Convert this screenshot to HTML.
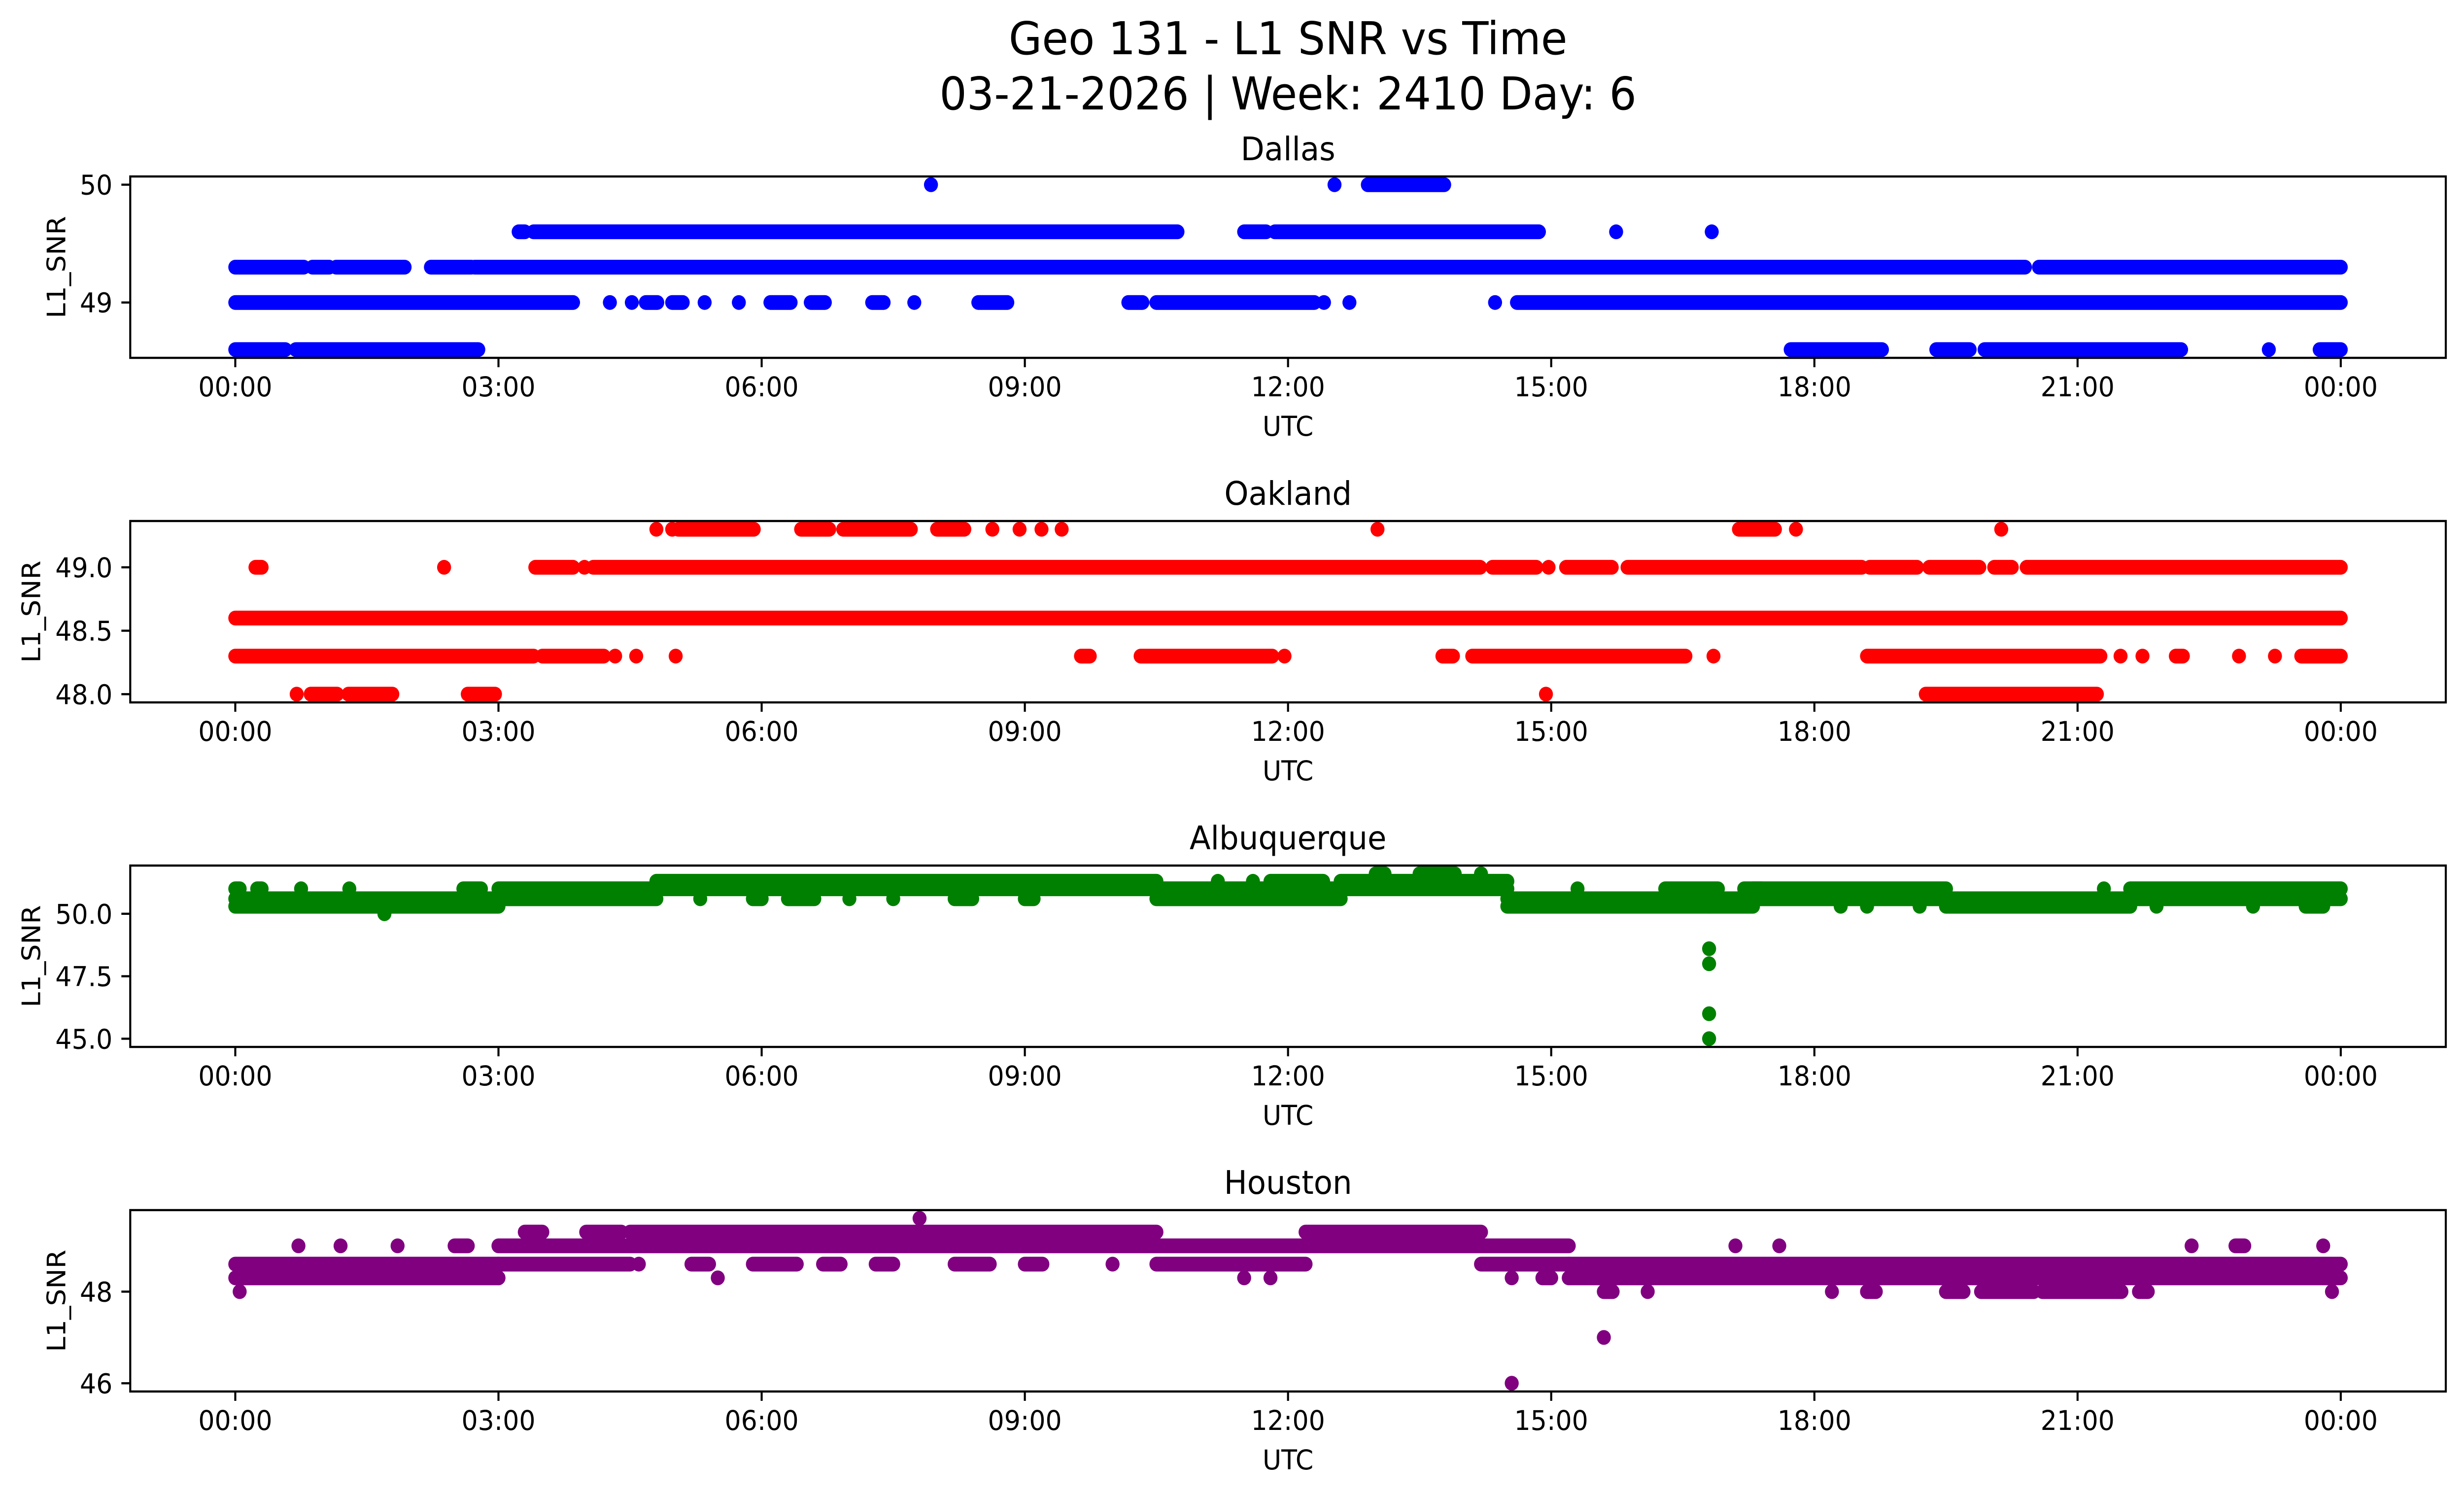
<!DOCTYPE html>
<html><head><meta charset="utf-8">
<style>
html,body{margin:0;padding:0;background:#fff;width:100%;height:100%;overflow:hidden;}
svg{position:absolute;left:0;top:0;width:100vw;height:100vh;display:block;font-family:"DejaVu Sans","Liberation Sans",sans-serif;}
</style></head>
<body>
<svg id="fig" viewBox="0 0 5278 3033" preserveAspectRatio="none" xmlns="http://www.w3.org/2000/svg">
<rect width="5278" height="3033" fill="#fff"/>
<text x="2759" y="110" font-size="92" text-anchor="middle">Geo 131 - L1 SNR vs Time</text>
<text x="2759" y="222" font-size="92" text-anchor="middle">03-21-2026 | Week: 2410 Day: 6</text>
<g id="panels"></g>
</svg>
<script>
// ---- shared x-axis data ----
const xTickHours = [0, 3, 6, 9, 12, 15, 18, 21, 24];
const xTickLabels = ["00:00","03:00","06:00","09:00","12:00","15:00","18:00","21:00","00:00"];

// ---- Dallas: runs [startHour, endHour, value] ----
const dallasRuns = [
 [0,0.57,48.6],[0.69,2.77,48.6],[17.73,18.77,48.6],[19.39,19.77,48.6],[19.94,22.18,48.6],[23.18,23.18,48.6],[23.76,24,48.6],
 [0,3.85,49.0],[4.27,4.27,49.0],[4.52,4.52,49.0],[4.68,4.81,49.0],[4.98,5.1,49.0],[5.35,5.35,49.0],[5.74,5.74,49.0],
 [6.1,6.33,49.0],[6.56,6.72,49.0],[7.26,7.39,49.0],[7.74,7.74,49.0],[8.47,8.8,49.0],[10.18,10.34,49.0],[10.5,12.3,49.0],
 [12.41,12.41,49.0],[12.7,12.7,49.0],[14.36,14.36,49.0],[14.61,24,49.0],
 [0,0.78,49.3],[0.88,1.07,49.3],[1.15,1.93,49.3],[2.23,2.69,49.3],[2.73,20.4,49.3],[20.56,24,49.3],
 [3.23,3.3,49.6],[3.4,10.74,49.6],[11.5,11.75,49.6],[11.85,14.86,49.6],[15.74,15.74,49.6],[16.83,16.83,49.6],
 [7.93,7.93,50.0],[12.53,12.53,50.0],[12.91,13.78,50.0]
];
const dallasTicks = [49, 50];
const dallasTickLabels = ["49","50"];

// ---- Oakland ----
const oaklandRuns = [
 [0.7,0.7,48.0],[0.86,1.16,48.0],[1.29,1.79,48.0],[2.65,2.96,48.0],[14.94,14.94,48.0],[19.27,21.22,48.0],
 [0,3.4,48.3],[3.5,4.2,48.3],[4.33,4.33,48.3],[4.57,4.57,48.3],[5.02,5.02,48.3],[9.64,9.74,48.3],[10.32,11.82,48.3],
 [11.96,11.96,48.3],[13.76,13.88,48.3],[14.1,16.53,48.3],[16.85,16.85,48.3],[18.6,21.26,48.3],[21.49,21.49,48.3],
 [21.74,21.74,48.3],[22.12,22.2,48.3],[22.84,22.84,48.3],[23.25,23.25,48.3],[23.55,24,48.3],
 [0,24,48.6],
 [0.23,0.3,49.0],[2.38,2.38,49.0],[3.42,3.85,49.0],[3.98,3.98,49.0],[4.08,14.19,49.0],[14.33,14.83,49.0],[14.97,14.97,49.0],
 [15.17,15.69,49.0],[15.87,18.54,49.0],[18.63,19.17,49.0],[19.31,19.88,49.0],[20.05,20.25,49.0],[20.42,24,49.0],
 [4.8,4.8,49.3],[4.98,4.98,49.3],[5.05,5.91,49.3],[6.45,6.77,49.3],[6.93,7.7,49.3],[8.0,8.31,49.3],[8.63,8.63,49.3],
 [8.94,8.94,49.3],[9.19,9.19,49.3],[9.42,9.42,49.3],[13.02,13.02,49.3],[17.14,17.55,49.3],[17.79,17.79,49.3],[20.13,20.13,49.3]
];
const oaklandTicks = [48.0, 48.5, 49.0];
const oaklandTickLabels = ["48.0","48.5","49.0"];

// ---- Albuquerque ----
const albuquerqueRuns = [
 [0,3.0,50.3],[0,3.0,50.6],[0,0.05,51.0],[0.25,0.3,51.0],[0.75,0.75,51.0],[1.3,1.3,51.0],[1.7,1.7,50.0],[2.6,2.8,51.0],
 [3.0,4.8,50.6],[3.0,4.8,51.0],[4.8,10.5,51.0],[4.8,10.5,51.3],[5.3,5.3,50.6],[5.9,6.0,50.6],[6.3,6.6,50.6],[7.0,7.0,50.6],
 [7.5,7.5,50.6],[8.2,8.4,50.6],[9.0,9.1,50.6],
 [10.5,12.6,50.6],[10.5,12.6,51.0],[11.2,11.2,51.3],[11.6,11.6,51.3],[11.8,12.4,51.3],
 [12.6,14.5,51.0],[12.6,14.5,51.3],[13.0,13.1,51.6],[13.5,13.9,51.6],[14.2,14.2,51.6],
 [14.5,17.3,50.3],[14.5,17.3,50.6],[15.3,15.3,51.0],[16.3,16.9,51.0],[17.2,17.4,51.0],
 [16.8,16.8,50.3],[16.8,16.8,48.6],[16.8,16.8,48.0],[16.8,16.8,46.0],[16.8,16.8,45.0],
 [17.3,19.5,50.6],[17.3,19.5,51.0],[18.3,18.3,50.3],[18.6,18.6,50.3],[19.2,19.2,50.3],
 [19.5,21.6,50.3],[19.5,21.6,50.6],[21.3,21.3,51.0],
 [21.6,24,50.6],[21.6,24,51.0],[21.9,21.9,50.3],[23.0,23.0,50.3],[23.6,23.8,50.3]
];
const albuquerqueTicks = [45.0, 47.5, 50.0];
const albuquerqueTickLabels = ["45.0","47.5","50.0"];

// ---- Houston ----
const houstonRuns = [
 [0,3.0,48.3],[0,3.0,48.6],[0.05,0.05,48.0],[0.72,0.72,49.0],[1.2,1.2,49.0],[1.85,1.85,49.0],[2.5,2.65,49.0],[3.0,3.0,48.3],
 [3.0,4.5,48.6],[3.0,4.5,49.0],[3.3,3.5,49.3],[4.0,4.4,49.3],
 [4.5,10.5,49.0],[4.5,10.5,49.3],[4.6,4.6,48.6],[5.2,5.4,48.6],[5.9,6.4,48.6],[6.7,6.9,48.6],[7.3,7.5,48.6],[8.2,8.6,48.6],
 [9.0,9.2,48.6],[10.0,10.0,48.6],[7.8,7.8,49.6],[5.5,5.5,48.3],
 [10.5,12.2,48.6],[10.5,12.2,49.0],[11.5,11.5,48.3],[11.8,11.8,48.3],
 [12.2,14.2,49.0],[12.2,14.2,49.3],
 [14.2,15.2,48.6],[14.2,15.2,49.0],[14.55,14.55,48.3],[14.55,14.55,46.0],[14.9,15.0,48.3],
 [15.2,24,48.3],[15.2,24,48.6],[15.6,15.6,47.0],[15.6,15.7,48.0],[16.1,16.1,48.0],[18.2,18.2,48.0],[18.6,18.7,48.0],
 [19.5,19.7,48.0],[19.9,20.5,48.0],[20.6,21.5,48.0],[21.7,21.8,48.0],[23.9,23.9,48.0],
 [17.1,17.1,49.0],[17.6,17.6,49.0],[22.3,22.3,49.0],[22.8,22.9,49.0],[23.8,23.8,49.0]
];
const houstonTicks = [46, 48];
const houstonTickLabels = ["46","48"];

// ---- layout (not data) ----
const AX_L = 279, AX_R = 5239, AX_H = 368;
const X0 = 504, PX_PER_HOUR = (5014 - 504) / 24;
function xScale(h){ return X0 + h * PX_PER_HOUR; }
const NS = "http://www.w3.org/2000/svg";
function mk(tag, attrs, parent){
  const e = document.createElementNS(NS, tag);
  for (const k in attrs) e.setAttribute(k, attrs[k]);
  parent.appendChild(e); return e;
}
function yScaleFactory(top, ymin, ymax){
  return v => top + AX_H - (v - ymin) / (ymax - ymin) * AX_H;
}
function dataRange(runs){
  let lo = Infinity, hi = -Infinity;
  runs.forEach(r => { lo = Math.min(lo, r[2]); hi = Math.max(hi, r[2]); });
  const pad = (hi - lo) * 0.05; return [lo - pad, hi + pad];
}
const panels = [
 {key:"dallas", title:"Dallas", top:358, color:"#0000ff", runs:dallasRuns, ticks:dallasTicks, labels:dallasTickLabels, ylabX:120},
 {key:"oakland", title:"Oakland", top:1057, color:"#ff0000", runs:oaklandRuns, ticks:oaklandTicks, labels:oaklandTickLabels, ylabX:66},
 {key:"albuquerque", title:"Albuquerque", top:1756, color:"#008000", runs:albuquerqueRuns, ticks:albuquerqueTicks, labels:albuquerqueTickLabels, ylabX:66},
 {key:"houston", title:"Houston", top:2455, color:"#800080", runs:houstonRuns, ticks:houstonTicks, labels:houstonTickLabels, ylabX:120}
];
const root = document.getElementById("panels");
panels.forEach(p => {
  const g = mk("g", {}, root);
  
  
  const [ymin, ymax] = dataRange(p.runs);
  const y = yScaleFactory(p.top, ymin, ymax);
  const bottom = p.top + AX_H;
  const t = mk("text", {x:(AX_L+AX_R)/2, y:p.top - 33, "font-size":66, "text-anchor":"middle"}, g);
  t.textContent = p.title;
  
  
  const mg = mk("g", {}, g);
  
  
  p.runs.forEach(r => {
    const m = mk("line", {x1:xScale(r[0]), x2:xScale(r[1]), y1:y(r[2]), y2:y(r[2]), stroke:p.color, "stroke-width":30, "stroke-linecap":"round"}, mg);
    
    
  });
  const fr = mk("rect", {x:AX_L, y:p.top, width:AX_R-AX_L, height:AX_H, fill:"none", stroke:"#000", "stroke-width":4.4}, g);
  
  
  xTickHours.forEach((h, i) => {
    const xx = xScale(h);
    const tk = mk("line", {x1:xx, x2:xx, y1:bottom, y2:bottom+19, stroke:"#000", "stroke-width":4.4}, g);
    
    
    const tl = mk("text", {x:xx, y:bottom+78, "font-size":55, "text-anchor":"middle"}, g);
    tl.textContent = xTickLabels[i];
    
    
  });
  const xl = mk("text", {x:(AX_L+AX_R)/2, y:bottom+158, "font-size":55, "text-anchor":"middle"}, g);
  xl.textContent = "UTC";
  
  
  p.ticks.forEach((v, i) => {
    const yy = y(v);
    const tk = mk("line", {x1:AX_L-19, x2:AX_L, y1:yy, y2:yy, stroke:"#000", "stroke-width":4.4}, g);
    
    
    const tl = mk("text", {x:AX_L-38, y:yy+20, "font-size":55, "text-anchor":"end"}, g);
    tl.textContent = p.labels[i];
    
    
  });
  const cy = p.top + AX_H/2;
  const yl = mk("text", {x:p.ylabX, y:cy, "font-size":55, "text-anchor":"middle", transform:`rotate(-90 ${p.ylabX} ${cy})`, dy:"20"}, g);
  yl.textContent = "L1_SNR";
  
  
});
</script>
</body></html>
